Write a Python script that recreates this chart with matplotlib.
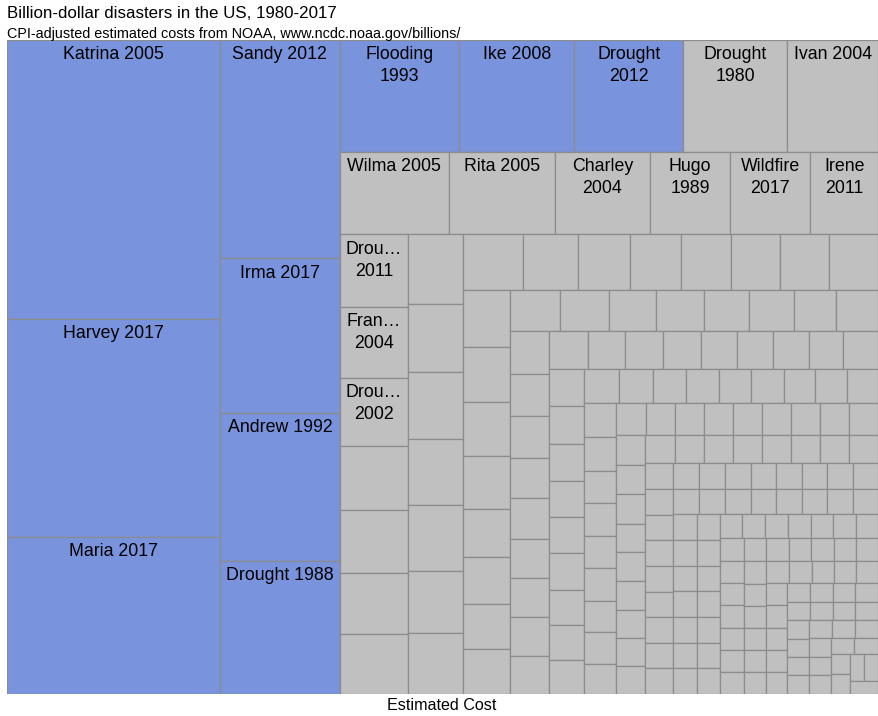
import matplotlib
matplotlib.use('Agg')
import matplotlib.pyplot as plt
from matplotlib.patches import Rectangle

#   DADOS (bilhões de US$, ajustados pelo CPI)

# eventos com nome visível no treemap
eventos_nomeados = ['Katrina 2005', 'Harvey 2017', 'Maria 2017',
                    'Sandy 2012', 'Irma 2017', 'Andrew 1992', 'Drought 1988',
                    'Flooding 1993', 'Ike 2008', 'Drought 2012', 'Drought 1980', 'Ivan 2004',
                    'Wilma 2005', 'Rita 2005', 'Charley 2004', 'Hugo 1989', 'Wildfire 2017', 'Irene 2011',
                    'Drought 2011', 'Frances 2004', 'Drought 2002']
custos_nomeados = [160.0, 125.0, 90.0,
                   70.4, 49.8, 47.8, 42.8,
                   35.8, 34.7, 32.6, 31.4, 27.2,
                   24.3, 23.8, 21.1, 18.0, 17.9, 15.1,
                   13.3, 13.0, 12.5]

# demais eventos (sem rótulo), do maior para o menor
custos_5_a_12 = [11.8, 11.6, 11.3, 10.9,
                 10.4, 10.2, 10.0, 9.8, 9.8, 9.3, 9.1,
                 8.9, 8.1, 7.8, 7.6, 7.4, 7.3, 7.3, 7.3,
                 7.2, 6.9, 6.8, 6.6, 6.0, 6.0, 5.6, 5.6,
                 5.5, 5.4, 5.2, 5.2, 5.0, 4.9, 4.7, 4.6]
custos_3_a_5 = [4.6, 4.4, 4.4, 4.3, 4.3, 4.1, 4.1, 4.1, 4.0,
                4.0, 3.9, 3.9, 3.9, 3.75, 3.75, 3.7, 3.6, 3.6,
                3.5, 3.5, 3.5, 3.45, 3.4, 3.4, 3.3, 3.3, 3.2,
                3.2, 3.1, 3.1, 3.0, 3.0, 3.0]
custos_2_a_3 = [2.9, 2.9, 2.9,
                2.9, 2.9, 2.8, 2.8, 2.8, 2.8, 2.7, 2.7, 2.6,
                2.48, 2.47, 2.47, 2.46, 2.46, 2.46, 2.45, 2.45, 2.45,
                2.36, 2.33, 2.3, 2.28, 2.26, 2.24, 2.22, 2.21, 2.2,
                2.2, 2.2, 2.19, 2.19, 2.18, 2.18, 2.17, 2.17]
custos_1_a_2 = [1.95, 1.95, 1.94, 1.94, 1.93, 1.93, 1.92, 1.92, 1.91,
                1.8, 1.8, 1.79, 1.79, 1.78, 1.78, 1.77, 1.77,
                1.76, 1.76, 1.75, 1.75, 1.74, 1.74, 1.73, 1.73,
                1.63, 1.63, 1.62, 1.62, 1.61, 1.61, 1.6,
                1.59, 1.59, 1.58, 1.58, 1.57, 1.57, 1.56,
                1.5, 1.5, 1.49, 1.49, 1.48, 1.48, 1.47,
                1.45, 1.45, 1.44, 1.44, 1.43, 1.43, 1.42,
                1.4, 1.4, 1.39, 1.39, 1.38, 1.38, 1.37,
                1.37, 1.36, 1.35, 1.34, 1.33,
                1.3, 1.28, 1.26, 1.25, 1.24,
                1.23, 1.22, 1.21, 1.2, 1.19,
                1.18, 1.17, 1.17, 1.16,
                1.15, 1.15, 1.14, 1.14,
                1.13, 1.12, 1.12, 1.11,
                1.1, 1.1, 1.09,
                1.07, 1.06, 1.05,
                1.04, 1.03, 1.02, 1.02, 1.01, 1.0, 1.0]

N_DESTAQUE = 10   # os 10 maiores em azul

custos = custos_nomeados + custos_5_a_12 + custos_3_a_5 + custos_2_a_3 + custos_1_a_2
custos = sorted(custos, reverse=True)


#   LAYOUT SQUARIFY
# a faixa cresce enquanto o último retângulo adicionado fica mais "quadrado"
def proporcao(v, soma, total, dx, dy):
    if dx < dy:      # faixa horizontal no topo
        h = dy * soma / total
        w = dx * v / soma
    else:            # faixa vertical à esquerda
        w = dx * soma / total
        h = dy * v / soma
    return max(w / h, h / w)


def squarify(valores, x0, y0, x1, y1):
    rects = []
    n = len(valores)
    total = sum(valores)
    i0 = 0
    while i0 < n:
        dx = x1 - x0
        dy = y1 - y0
        i1 = i0 + 1
        soma = valores[i0]
        r_ultimo = proporcao(soma, soma, total, dx, dy)
        while i1 < n:
            v = valores[i1]
            r = proporcao(v, soma + v, total, dx, dy)
            if r > r_ultimo:
                break
            soma += v
            r_ultimo = r
            i1 += 1
        linha = valores[i0:i1]
        if dx < dy:
            h = dy * soma / total if i1 < n else dy
            x = x0
            for v in linha:
                w = dx * v / soma
                rects.append((x, y0, w, h))
                x += w
            y0 += h
        else:
            w = dx * soma / total if i1 < n else dx
            y = y0
            for v in linha:
                h = dy * v / soma
                rects.append((x0, y, w, h))
                y += h
            x0 += w
        total -= soma
        i0 = i1
    return rects


#   FIGURA
fig = plt.figure(figsize=(8.79, 7.16), dpi=100)
L, T, R, B = 7, 40, 878, 693.7    # área do gráfico em pixels
ax = fig.add_axes([L / 879, 1 - B / 716, (R - L) / 879, (B - T) / 716])
W, H = R - L, B - T
ax.set_xlim(0, W)
ax.set_ylim(H, 0)
ax.axis('off')

retangulos = squarify(custos, 0, 0, W, H)

AZUL = '#7994dd'
CINZA = '#c0c0c0'
for i, (x, y, w, h) in enumerate(retangulos):
    cor = AZUL if i < N_DESTAQUE else CINZA
    ax.add_patch(Rectangle((x, y), w, h, facecolor=cor, edgecolor='#8c8c8c', linewidth=0.9))

#   RÓTULOS
FONTE = 'Liberation Sans'
TAM_ROTULO = 12.8
renderer = fig.canvas.get_renderer()


def medir(texto):
    t = fig.text(0, 0, texto, fontsize=TAM_ROTULO, family=FONTE)
    largura = t.get_window_extent(renderer).width
    t.remove()
    return largura


def quebrar(texto, largura_max):
    if medir(texto) <= largura_max:
        return [texto]
    linhas = []
    for palavra in texto.split():
        if medir(palavra) <= largura_max:
            linhas.append(palavra)
        else:
            for k in range(len(palavra) - 1, 0, -1):
                cand = palavra[:k] + '\u2026'
                if medir(cand) <= largura_max:
                    linhas.append(cand)
                    break
    return linhas


px_por_unidade = (R - L) / W
for nome, (x, y, w, h) in zip(eventos_nomeados, retangulos):
    linhas = quebrar(nome, w * px_por_unidade - 9)
    for j, linha in enumerate(linhas):
        ax.annotate(linha, xy=(x + w / 2, y), xytext=(0, -(19.3 + 22 * j) * 0.72),
                    textcoords='offset points', ha='center', va='baseline',
                    fontsize=TAM_ROTULO, family=FONTE, color='black')

#   TÍTULOS
fig.text(7 / 879, 1 - 18.3 / 716, 'Billion-dollar disasters in the US, 1980-2017',
         fontsize=12.2, family=FONTE, va='baseline', ha='left')
fig.text(7 / 879, 1 - 37.7 / 716, 'CPI-adjusted estimated costs from NOAA, www.ncdc.noaa.gov/billions/',
         fontsize=10.4, family=FONTE, va='baseline', ha='left')
fig.text(442 / 879, 1 - 710.5 / 716, 'Estimated Cost',
         fontsize=11.6, family=FONTE, va='baseline', ha='center')

fig.savefig('out.png', dpi=100)
